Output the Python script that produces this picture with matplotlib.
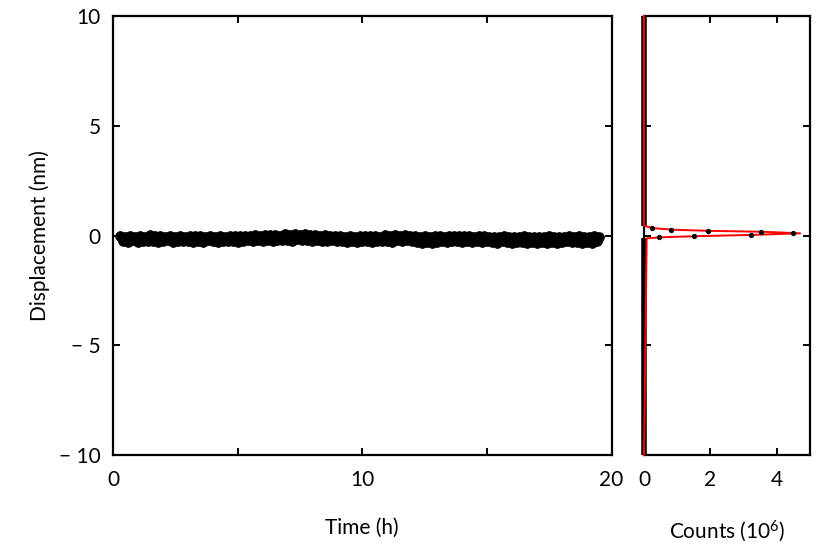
import matplotlib
matplotlib.use("Agg")
import matplotlib.pyplot as plt
import numpy as np

plt.rcParams["font.family"] = ["Lato", "DejaVu Sans"]
plt.rcParams["mathtext.fontset"] = "custom"
plt.rcParams["mathtext.rm"] = "Lato"
plt.rcParams["mathtext.default"] = "regular"

# --- time trace (displacement in nm, sampled every 0.1 h from 0.3 h to 19.5 h) ---
t_start, t_end = 0.3, 19.5
displacement = [
    -0.02, -0.25, -0.05, -0.28, 0.00, -0.22, -0.08, -0.30, -0.03, -0.24,
    -0.06, -0.27, 0.01, -0.23, -0.04, -0.31, -0.02, -0.26, -0.07, -0.22,
    -0.03, -0.29, -0.05, -0.24, 0.00, -0.27, -0.06, -0.23, -0.02, -0.30,
    -0.04, -0.25, -0.01, -0.28, -0.07, -0.22, -0.03, -0.26, -0.05, -0.29,
    -0.02, -0.24, -0.06, -0.27, -0.01, -0.23, -0.04, -0.30, -0.03, -0.25,
    0.00, -0.22, -0.03, -0.26, 0.02, -0.21, -0.01, -0.24, 0.03, -0.20,
    0.01, -0.23, 0.04, -0.19, 0.00, -0.22, 0.05, -0.20, 0.02, -0.24,
    0.06, -0.18, 0.03, -0.21, 0.08, -0.19, 0.01, -0.23, 0.04, -0.20,
    -0.01, -0.24, 0.02, -0.27, -0.03, -0.22, 0.00, -0.26, -0.04, -0.23,
    -0.05, -0.29, -0.02, -0.25, -0.06, -0.31, -0.03, -0.27, 0.00, -0.24,
    -0.04, -0.28, -0.01, -0.23, -0.05, -0.26, 0.02, -0.24, -0.03, -0.29,
    0.01, -0.22, -0.02, -0.26, 0.03, -0.21, -0.04, -0.27, -0.01, -0.30,
    -0.06, -0.33, -0.03, -0.28, -0.07, -0.36, -0.04, -0.29, -0.02, -0.26,
    -0.05, -0.30, -0.01, -0.27, -0.04, -0.25, 0.00, -0.28, -0.03, -0.24,
    -0.02, -0.29, -0.06, -0.26, -0.01, -0.31, -0.04, -0.25, -0.07, -0.28,
    -0.05, -0.32, -0.08, -0.27, -0.04, -0.30, -0.09, -0.34, -0.06, -0.29,
    -0.07, -0.31, -0.04, -0.35, -0.08, -0.30, -0.05, -0.33, -0.09, -0.28,
    -0.06, -0.32, -0.03, -0.29, -0.07, -0.34, -0.05, -0.30, -0.08, -0.27,
    -0.04, -0.31, -0.07, -0.28, -0.02, -0.33, -0.06, -0.29, -0.05, -0.32,
    -0.03, -0.27, -0.06,
]
time_h = np.linspace(t_start, t_end, len(displacement))

# --- histogram of displacement (counts in 10^6) ---
hist_nm = [0.33, 0.26, 0.21, 0.17, 0.10, 0.03, -0.03, -0.08]
hist_counts = [0.24, 0.81, 1.93, 3.52, 4.49, 3.22, 1.51, 0.45]
# bins with (almost) no counts, drawn as a column at 0
empty_ranges = [(-10.0, -0.13), (0.42, 10.0)]
# red curve through the histogram
fit_nm = [10.0, 0.45, 0.40, 0.33, 0.26, 0.21, 0.17, 0.10, 0.03, -0.03, -0.08, -0.13, -10.0]
fit_counts = [0.0, 0.0, 0.10, 0.30, 0.95, 2.05, 3.60, 4.70, 3.30, 1.60, 0.50, 0.08, 0.0]

y_ticks = [-10, -5, 0, 5, 10]
y_ticklabels = ["\u2212 10", "\u2212 5", "0", "5", "10"]

fig = plt.figure(figsize=(8.4, 5.5), dpi=100)
ax = fig.add_axes([0.1345, 0.1727, 0.5935, 0.7982])
axh = fig.add_axes([0.7667, 0.1727, 0.1976, 0.7982])

for a in (ax, axh):
    for s in a.spines.values():
        s.set_linewidth(1.6)
    a.tick_params(direction="in", length=5, width=1.4, top=True, right=True,
                  labelsize=15, pad=11)
    a.tick_params(axis="y", pad=9)
    a.set_ylim(-10, 10)
    a.set_yticks(y_ticks)

# time trace
ax.plot(time_h, displacement, "o", color="black", markersize=7,
        markeredgewidth=0.6, zorder=3)
ax.set_xlim(0, 20)
ax.set_xticks([0, 5, 10, 15, 20])
ax.set_xticklabels(["0", "", "10", "", "20"])
ax.set_yticklabels(y_ticklabels)
ax.set_xlabel("Time (h)", fontsize=15, labelpad=20)
ax.set_ylabel("Displacement (nm)", fontsize=15, labelpad=6)

# histogram
for lo, hi in empty_ranges:
    axh.plot([0, 0], [lo, hi], color="black", linewidth=4.0,
             solid_capstyle="butt", clip_on=False, zorder=4)
axh.plot(fit_counts, fit_nm, color="#ff0000", linewidth=1.4,
         clip_on=False, zorder=5)
axh.plot(hist_counts, hist_nm, "o", color="black", markersize=3.8,
         markeredgewidth=0, zorder=6)
axh.set_xlim(0, 5)
axh.set_xticks([0, 2, 4])
axh.set_yticklabels([])
axh.set_xlabel("Counts (10$^{6}$)", fontsize=15, labelpad=20)

fig.savefig("out.png", dpi=100)
